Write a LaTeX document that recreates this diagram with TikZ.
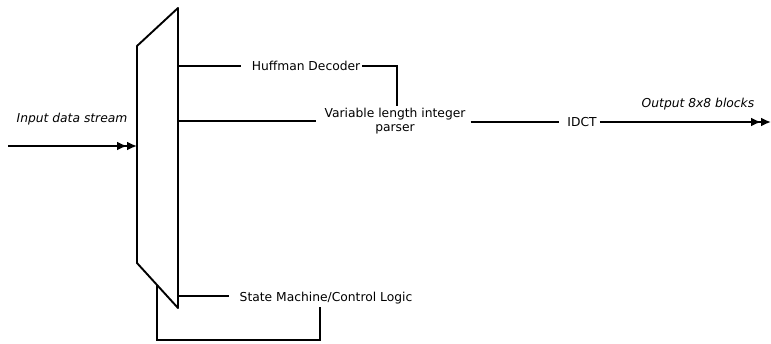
\documentclass[tikz,border=0pt]{standalone}
\usepackage{fontspec}
\setmainfont{DejaVu Sans}
\usetikzlibrary{arrows.meta}
\begin{document}
\begin{tikzpicture}[x=1pt,y={(0,-1pt)},
  wire/.style={line width=1.9pt},
  lbl/.style={inner sep=0pt,font=\fontsize{12.3}{14.5}\selectfont},
  ilbl/.style={lbl,font=\fontsize{12.3}{14.5}\selectfont\itshape},
  feed/.style={wire,-{Latex[length=10pt,width=9pt]Latex[length=10pt,width=9pt]}}]
\useasboundingbox (0,0) rectangle (771,343);

% multiplexer body
\draw[wire,line join=round] (137,46) -- (178,8) -- (178,308) -- (137,263) -- cycle;
\coordinate (mA) at (178,66);
\coordinate (mB) at (178,121);
\coordinate (mC) at (178,296);
\coordinate (mIn) at (137,146);
\coordinate (mLoop) at (157,285);

% input
\coordinate (src) at (8,146);
\node[ilbl] (inlbl) at (72,119) {Input data stream};
\draw[feed] (src) -- (mIn);

% decoder stages
\node[lbl] (huff) at (306,66) {Huffman Decoder};
\node[lbl,align=center] (vlip) at (395,121) {Variable length integer\\parser};
\node[lbl] (idct) at (582,122) {IDCT};
\node[lbl] (state) at (326,298) {State Machine/Control Logic};

\draw[wire] (mA) -- ([xshift=-11pt]huff.west);
\draw[wire] ([xshift=2pt]huff.east) -| ([xshift=2pt,yshift=2pt]vlip.north);
\draw[wire] (mB) -- ([xshift=-8pt]vlip.west |- mB);
\draw[wire] ([xshift=5pt]vlip.east |- idct) -- ([xshift=-8pt]idct.west);
\draw[wire] (mC) -- ([xshift=-10pt]state.west |- mC);

% output
\coordinate (sink) at (771,122);
\node[ilbl] (outlbl) at (698,104) {Output 8x8 blocks};
\draw[feed] ([xshift=3pt]idct.east) -- (sink);

% control feedback loop
\draw[wire] (mLoop) -- (157,340) -| ([xshift=-6pt,yshift=-3pt]state.south);
\end{tikzpicture}
\end{document}
